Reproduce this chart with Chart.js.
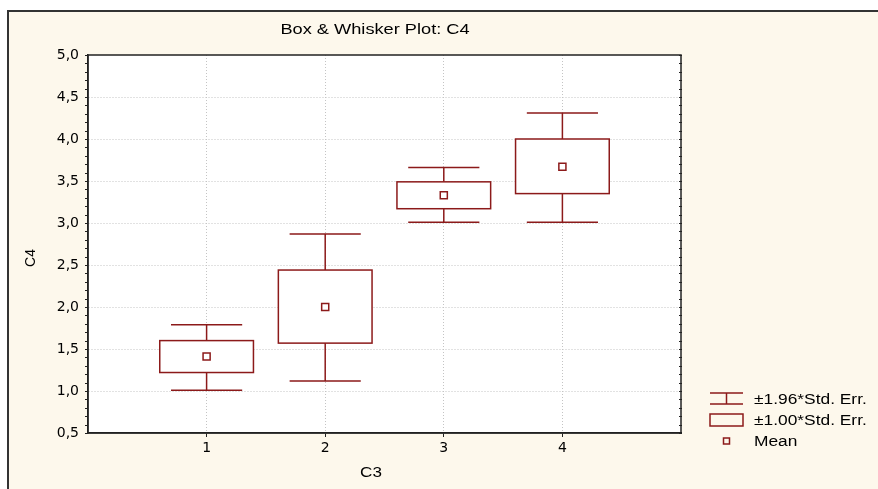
<!DOCTYPE html>
<html>
<head>
<meta charset="utf-8">
<script src="https://cdn.jsdelivr.net/npm/chart.js@4.4.0/dist/chart.umd.min.js"></script>
<style>
  html, body { margin: 0; padding: 0; background: #fff; }
</style>
</head>
<body>
<canvas id="chart" width="878" height="489"></canvas>
<script>
// values (C4 by C3 group)
const categories = [1, 2, 3, 4]
const means      = [1.41, 2.00, 3.33, 3.67]
const boxLow     = [1.22, 1.57, 3.17, 3.35]   // mean - 1.00*SE
const boxHigh    = [1.60, 2.44, 3.49, 4.00]   // mean + 1.00*SE
const whiskLow   = [1.01, 1.12, 3.01, 3.01]   // mean - 1.96*SE
const whiskHigh  = [1.79, 2.87, 3.66, 4.31]   // mean + 1.96*SE
const legendLabels = ['±1.96*Std. Err.', '±1.00*Std. Err.', 'Mean']

const RED = '#8c1a1a'
const CREAM = '#fdf8ec'
const FONT = "'Liberation Sans', Arial, sans-serif"
const TICKFONT = "'DejaVu Sans', sans-serif"

Chart.defaults.font.family = FONT
Chart.defaults.font.size = 13
Chart.defaults.color = '#000'

// text in the reference is a bit wider than a normal sans, so stretch it
function wideText(ctx, text, x, y, align, sx, rot) {
  ctx.save()
  ctx.translate(x, y)
  if (rot) ctx.rotate(rot)
  ctx.scale(sx, 1)
  ctx.textAlign = align
  ctx.textBaseline = 'middle'
  ctx.fillText(text, 0, 0)
  ctx.restore()
}

const framePlugin = {
  id: 'frame',
  beforeDraw(chart) {
    const ctx = chart.ctx, a = chart.chartArea
    ctx.save()
    ctx.fillStyle = '#fff'
    ctx.fillRect(0, 0, chart.width, chart.height)
    ctx.fillStyle = CREAM
    ctx.fillRect(8, 11, chart.width, chart.height)
    ctx.strokeStyle = '#333'
    ctx.lineWidth = 2
    ctx.strokeRect(8, 11, chart.width + 10, chart.height + 10)
    ctx.fillStyle = '#fff'
    ctx.fillRect(a.left, a.top, a.right - a.left, a.bottom - a.top)
    ctx.restore()
  }
}

const boxPlugin = {
  id: 'boxes',
  beforeDatasetsDraw(chart) {
    const ctx = chart.ctx
    const x = chart.scales.x, y = chart.scales.y
    ctx.save()
    ctx.strokeStyle = RED
    ctx.lineWidth = 1.5
    categories.forEach((c, i) => {
      const cx = x.getPixelForValue(c)
      const bl = x.getPixelForValue(c - 0.395), br = x.getPixelForValue(c + 0.395)
      const wl = x.getPixelForValue(c - 0.30), wr = x.getPixelForValue(c + 0.30)
      const yb0 = y.getPixelForValue(boxLow[i]), yb1 = y.getPixelForValue(boxHigh[i])
      const yw0 = y.getPixelForValue(whiskLow[i]), yw1 = y.getPixelForValue(whiskHigh[i])
      ctx.beginPath()
      ctx.moveTo(cx, yb1); ctx.lineTo(cx, yw1)
      ctx.moveTo(wl, yw1); ctx.lineTo(wr, yw1)
      ctx.moveTo(cx, yb0); ctx.lineTo(cx, yw0)
      ctx.moveTo(wl, yw0); ctx.lineTo(wr, yw0)
      ctx.stroke()
      ctx.fillStyle = '#fff'
      ctx.fillRect(bl, yb1, br - bl, yb0 - yb1)
      ctx.strokeRect(bl, yb1, br - bl, yb0 - yb1)
    })
    ctx.restore()
  },
  afterDraw(chart) {
    const ctx = chart.ctx, a = chart.chartArea
    const y = chart.scales.y
    ctx.save()
    // plot border
    ctx.strokeStyle = '#222'
    ctx.lineWidth = 1.5
    ctx.strokeRect(a.left, a.top, a.right - a.left, a.bottom - a.top)
    // minor ticks on left and right axes
    ctx.lineWidth = 1
    for (let v = y.min; v <= y.max + 1e-6; v += 0.1) {
      const py = Math.round(y.getPixelForValue(v)) + 0.5
      ctx.beginPath()
      ctx.moveTo(a.left - 3, py); ctx.lineTo(a.left, py)
      ctx.moveTo(a.right - 2, py); ctx.lineTo(a.right + 1, py)
      ctx.stroke()
    }
    // titles
    ctx.fillStyle = '#000'
    ctx.font = '14px ' + FONT
    wideText(ctx, 'Box & Whisker Plot: C4', 375, 30, 'center', 1.3)
    wideText(ctx, 'C3', 371, 473, 'center', 1.22)
    wideText(ctx, 'C4', 31, 258, 'center', 1.0, -Math.PI / 2)

    // legend
    const lx0 = 710, lx1 = 743, lcx = 726.5
    ctx.strokeStyle = RED
    ctx.lineWidth = 1.5
    ctx.beginPath()
    ctx.moveTo(lx0, 393); ctx.lineTo(lx1, 393)
    ctx.moveTo(lx0, 404); ctx.lineTo(lx1, 404)
    ctx.moveTo(lcx, 393); ctx.lineTo(lcx, 404)
    ctx.stroke()
    ctx.strokeRect(lx0, 414, lx1 - lx0, 12)
    ctx.strokeRect(lcx - 3, 438, 6, 6)
    ctx.fillStyle = '#000'
    wideText(ctx, legendLabels[0], 754, 400, 'left', 1.24)
    wideText(ctx, legendLabels[1], 754, 421, 'left', 1.24)
    wideText(ctx, legendLabels[2], 754, 442, 'left', 1.24)
    ctx.restore()
  }
}

new Chart(document.getElementById('chart'), {
  type: 'scatter',
  data: {
    datasets: [{
      label: legendLabels[2],
      data: categories.map((c, i) => ({ x: c, y: means[i] })),
      pointStyle: 'rect',
      pointRadius: 5,
      pointHoverRadius: 5,
      borderColor: RED,
      backgroundColor: '#fff',
      borderWidth: 1.5
    }]
  },
  options: {
    responsive: false,
    animation: false,
    devicePixelRatio: 1,
    layout: { padding: { left: 8, top: 55, right: 197, bottom: 0 } },
    plugins: { legend: { display: false }, tooltip: { enabled: false } },
    scales: {
      x: {
        type: 'linear', min: 0, max: 5,
        afterFit: s => { s.height = 56 },
        ticks: {
          stepSize: 1, padding: 3,
          font: { family: TICKFONT, size: 14 },
          callback: v => (v >= 1 && v <= 4) ? String(v) : ''
        },
        grid: {
          color: c => (c.tick && c.tick.value >= 1 && c.tick.value <= 4) ? '#c4c4c4' : 'rgba(0,0,0,0)',
          tickColor: c => (c.tick && c.tick.value >= 1 && c.tick.value <= 4) ? '#222' : 'rgba(0,0,0,0)',
          tickLength: 4,
          tickBorderDash: []
        },
        border: { display: true, color: '#222', width: 1.5, dash: [1, 2] }
      },
      y: {
        min: 0.5, max: 5.0,
        afterFit: s => { s.width = 80 },
        ticks: {
          stepSize: 0.5, padding: 9,
          font: { family: TICKFONT, size: 14 },
          callback: v => v.toFixed(1).replace('.', ',')
        },
        grid: {
          drawTicks: false,
          color: c => (c.tick && c.tick.value > 0.5 && c.tick.value < 5) ? '#c4c4c4' : 'rgba(0,0,0,0)'
        },
        border: { display: true, color: '#222', width: 1.5, dash: [1, 2] }
      }
    }
  },
  plugins: [framePlugin, boxPlugin]
})
</script>
</body>
</html>
